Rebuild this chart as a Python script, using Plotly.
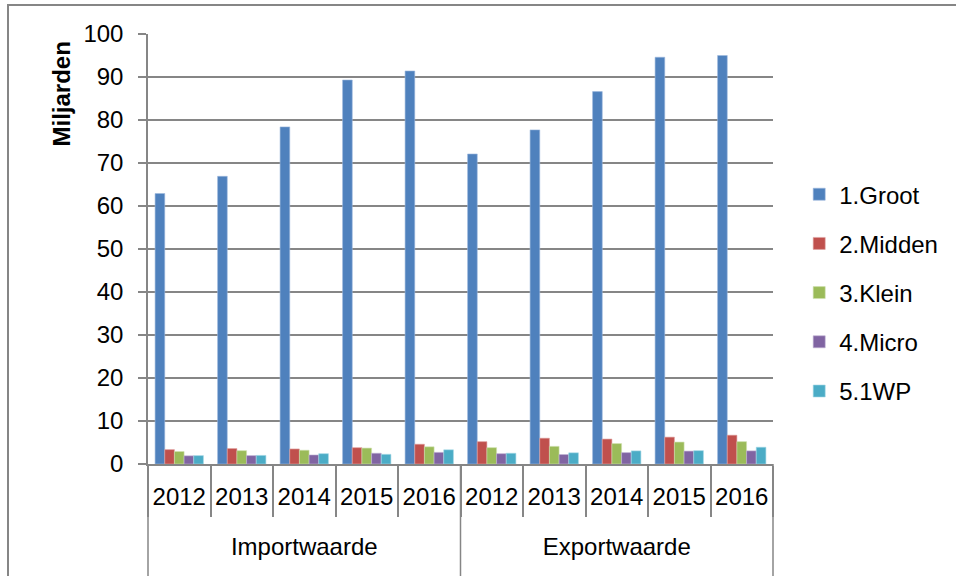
import plotly.graph_objects as go

# Handelswaarde per bedrijfsgrootteklasse (miljarden)
groups = ["Importwaarde"] * 5 + ["Exportwaarde"] * 5
years = ["2012", "2013", "2014", "2015", "2016"] * 2

series_names = ["1.Groot", "2.Midden", "3.Klein", "4.Micro", "5.1WP"]
groot = [62.9, 66.9, 78.4, 89.3, 91.4, 72.1, 77.7, 86.6, 94.6, 95.0]
midden = [3.35, 3.6, 3.5, 3.8, 4.6, 5.2, 6.0, 5.8, 6.25, 6.7]
klein = [2.9, 3.1, 3.2, 3.7, 4.0, 3.8, 4.1, 4.75, 5.1, 5.2]
micro = [1.9, 1.95, 2.1, 2.5, 2.7, 2.4, 2.2, 2.65, 3.0, 3.05]
wp = [1.95, 2.0, 2.4, 2.25, 3.3, 2.5, 2.6, 3.05, 3.1, 3.9]

colors = ["#4F81BD", "#C0504D", "#9BBB59", "#8064A2", "#4BACC6"]
edge_colors = ["#9DB9DE", "#E0A3A1", "#CFE0AE", "#BFB0D3", "#A5D8E6"]

FONT = "Liberation Sans, Arial, sans-serif"
GRID = "#868686"

# Year labels get an empty second line so the group row sits lower
year_labels = [y + "<br>\u00a0" for y in years]

fig = go.Figure()
for name, vals, col, edge in zip(series_names, [groot, midden, klein, micro, wp], colors, edge_colors):
    fig.add_trace(go.Bar(
        x=[groups, year_labels], y=vals, name=name, legendgroup=name,
        marker=dict(color=col, line=dict(color=edge, width=0.6)),
    ))

fig.update_layout(
    width=956, height=576,
    margin=dict(l=148, r=183, t=34, b=112, autoexpand=False),
    paper_bgcolor="white", plot_bgcolor="white",
    barmode="group", bargap=0.227, bargroupgap=0,
    font=dict(family=FONT, size=24, color="black"),
    legend=dict(
        xref="container", yref="container",
        x=0.836, y=0.492, xanchor="left", yanchor="middle",
        font=dict(size=24), tracegroupgap=15, itemwidth=30,
        bgcolor="rgba(0,0,0,0)",
    ),
    showlegend=True,
)

fig.update_yaxes(
    range=[0, 100], dtick=10, automargin=False,
    showgrid=True, gridcolor=GRID, gridwidth=1.5,
    showline=True, linecolor=GRID, linewidth=1.5,
    ticks="outside", ticklen=8, tickcolor=GRID, tickwidth=1.5,
    ticklabelstandoff=10,
    zeroline=False,
)

fig.update_xaxes(
    type="multicategory", automargin=False, tickangle=0,
    showline=True, linecolor=GRID, linewidth=1.5,
    ticks="outside", ticklen=51, tickcolor=GRID, tickwidth=1.5,
    ticklabelstandoff=10,
    showdividers=False,
    tickfont=dict(size=24),
)

# Group separators running down to the frame edge
for xp in (0.0, 0.5, 1.0):
    fig.add_shape(type="line", xref="paper", yref="paper",
                  x0=xp, x1=xp, y0=0, y1=-0.3,
                  line=dict(color=GRID, width=1.5))

# Axis title, placed near the top of the value axis
fig.add_annotation(text="<b>Miljarden</b>", textangle=-90,
                   xref="paper", yref="paper", x=-87 / 625, y=(464 - 94.5) / 430,
                   xanchor="center", yanchor="middle",
                   showarrow=False, font=dict(size=24))

# Outer chart frame
fig.add_shape(type="rect", xref="paper", yref="paper",
              x0=-140 / 625, x1=1.4, y0=-0.5, y1=(464 - 5) / 430,
              line=dict(color=GRID, width=2), fillcolor="rgba(0,0,0,0)", layer="below")

fig.write_html("out.html")
